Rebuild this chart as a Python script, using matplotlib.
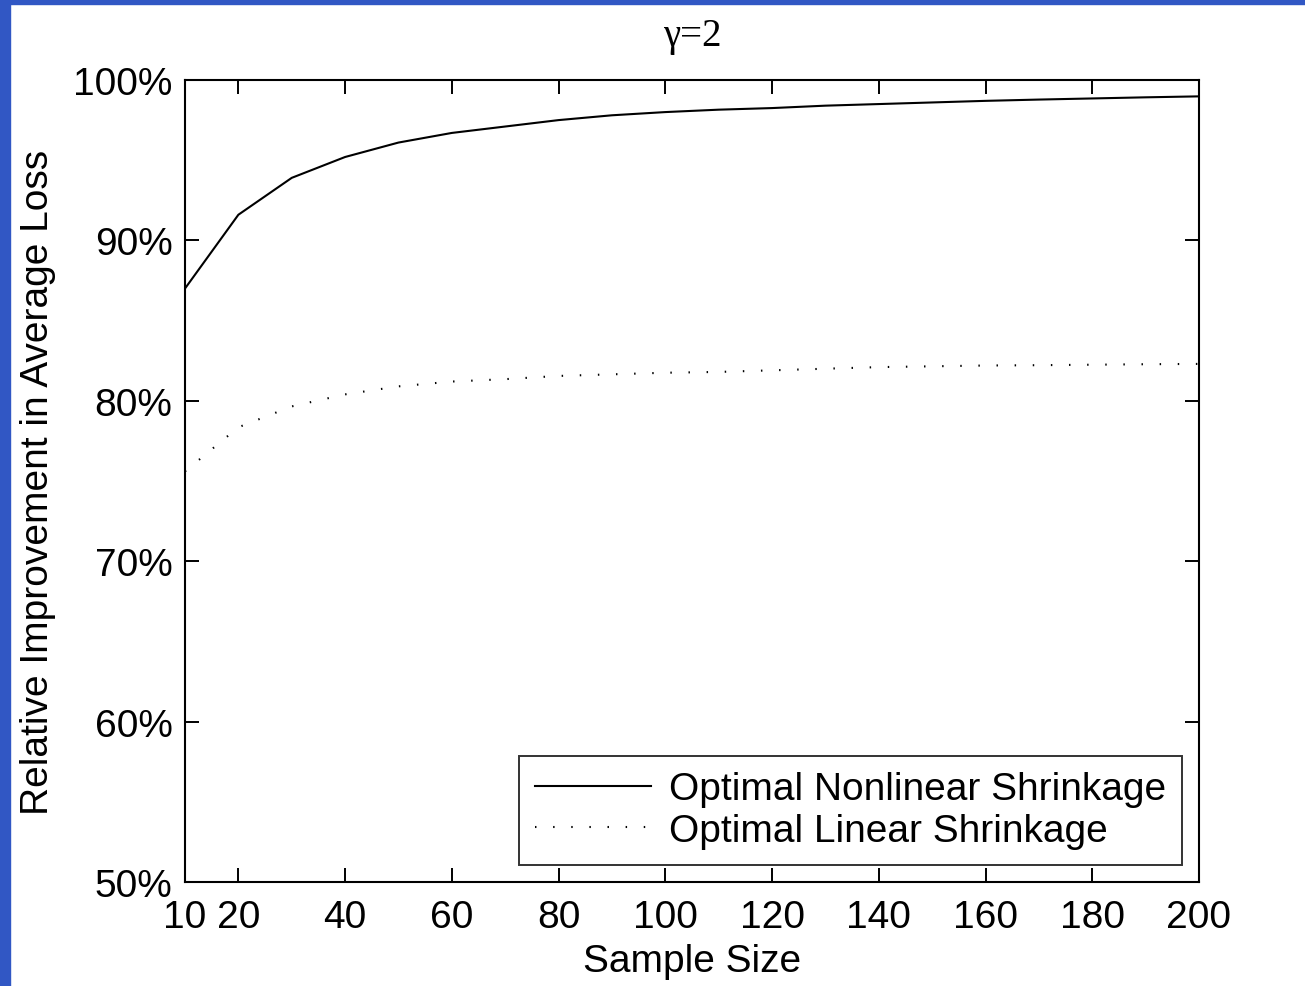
import numpy as np
import matplotlib
matplotlib.use("Agg")
import matplotlib.pyplot as plt
from matplotlib.patches import Rectangle
from matplotlib.ticker import FuncFormatter

# sample sizes and the two curves (in percent)
sample_size = [10, 20, 30, 40, 50, 60, 70, 80, 90, 100,
               110, 120, 130, 140, 150, 160, 170, 180, 190, 200]
nonlinear = [87.0, 91.6, 93.9, 95.2, 96.1, 96.7, 97.1, 97.5, 97.8, 98.0,
             98.15, 98.25, 98.4, 98.5, 98.6, 98.7, 98.78, 98.85, 98.92, 98.98]
linear = [75.6, 78.35, 79.65, 80.4, 80.9, 81.2, 81.35, 81.55, 81.65, 81.75,
          81.8, 81.9, 82.0, 82.1, 82.15, 82.2, 82.22, 82.25, 82.28, 82.3]

xticks = [10, 20, 40, 60, 80, 100, 120, 140, 160, 180, 200]
yticks = [50, 60, 70, 80, 90, 100]

plt.rcParams['font.family'] = ['Liberation Sans', 'DejaVu Sans']
fs = 28

fig = plt.figure(figsize=(13.05, 9.87), dpi=100)
# blue slide frame on left and top
fig.patches.append(Rectangle((0, 0), 10 / 1305, 1, transform=fig.transFigure,
                             color='#3157C4', zorder=0))
fig.patches.append(Rectangle((0, 1 - 5 / 987), 1, 5 / 987, transform=fig.transFigure,
                             color='#3157C4', zorder=0))

ax = fig.add_axes([185 / 1305, 1 - 883 / 987, 1014 / 1305, 802 / 987])
ax.plot(sample_size, nonlinear, color='k', lw=1.5, label='Optimal Nonlinear Shrinkage')
ax.plot(sample_size, linear, color='k', lw=1.5, linestyle=(0, (0.7, 8.0)),
        label='Optimal Linear Shrinkage')

ax.set_xlim(10, 200)
ax.set_ylim(50, 100)
ax.set_xticks(xticks)
ax.set_yticks(yticks)
ax.yaxis.set_major_formatter(FuncFormatter(lambda v, p: '%d%%' % v))
ax.tick_params(direction='in', length=10, width=1.4, labelsize=fs,
               top=True, right=True)
ax.tick_params(axis='x', pad=12)
ax.tick_params(axis='y', pad=9)
for s in ax.spines.values():
    s.set_linewidth(1.5)

ax.set_xlabel('Sample Size', fontsize=fs, labelpad=6)
ax.set_ylabel('Relative Improvement in Average Loss', fontsize=fs, labelpad=12)
ax.set_title('γ=2', fontsize=fs, family=['Liberation Serif', 'DejaVu Serif'], pad=25)

leg = ax.legend(loc='lower right', fontsize=fs, frameon=True, fancybox=False,
                edgecolor='k', handlelength=3.0, borderaxespad=0.45,
                labelspacing=0.15, handletextpad=0.45, borderpad=0.4)
leg.get_frame().set_linewidth(1.4)

fig.savefig('out.png', dpi=100)
